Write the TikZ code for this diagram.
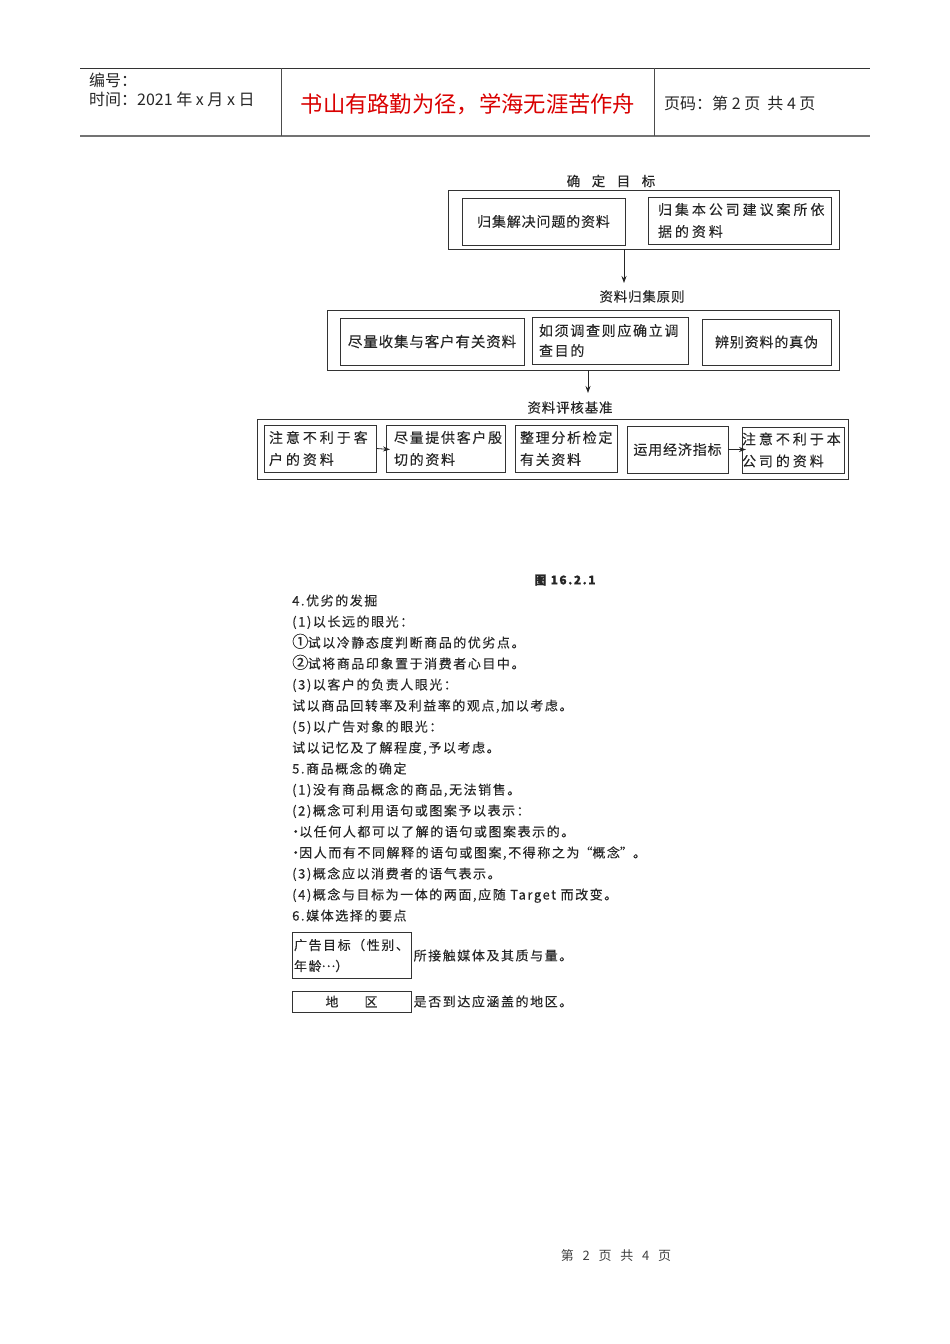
\documentclass[tikz,border=0pt]{standalone}
\usepackage{fontspec}
\setmainfont{Noto Sans CJK SC}
\newfontfamily\wide[LetterSpace=12,FakeBold=0.2]{Noto Sans CJK SC}
\newfontfamily\narrow[LetterSpace=6,FakeBold=0.2]{Noto Sans CJK SC}
\newfontfamily\wider[LetterSpace=21,FakeBold=0.2]{Noto Sans CJK SC}
\usetikzlibrary{arrows.meta,positioning}
\newcommand{\dotmark}{\makebox[7pt][c]{·}}
\tikzset{
  frame/.style 2 args={draw=black!80, line width=0.9pt, inner sep=0pt, minimum width=#1pt, minimum height=#2pt},
  stepbox/.style 2 args={frame={#1}{#2}, font=\narrow\fontsize{14}{22}\selectfont, text=black!85},
  stepleft/.style 2 args={stepbox={#1}{#2}, align=left, text width=#1pt-10pt, font=\wider\fontsize{14}{22}\selectfont},
  title/.style={font=\narrow\fontsize{13.5}{16}\selectfont, text=black!85},
  bodyline/.style={anchor=base west, inner sep=0pt, font=\wide\fontsize{13}{16}\selectfont, text=black!85},
  head/.style={anchor=west, inner sep=0pt, font=\fontsize{16}{18}\selectfont, text=black!85},
  flow/.style={-{Stealth[length=7pt,width=5pt]}, line width=0.8pt, black!85}
}
\begin{document}
\begin{tikzpicture}[x=1pt, y=-1pt]
  \useasboundingbox (0,0) rectangle (950,1344);
  % header
  \coordinate (hl) at (80,68);
  \coordinate (hr) at (870,68);
  \coordinate (bl) at (80,136);
  \coordinate (br) at (870,136);
  \draw[black!80, line width=0.8pt] (hl) -- (hr);
  \draw[black!55, line width=1.2pt] (bl) -- (br);
  \draw[black!70, line width=0.7pt] (281,68) -- (281,136) (654,68) -- (654,136);
  \node[head] (serial) at (89,80) {编号：};
  \node[head] (time) at (89,99) {时间：2021 年 x 月 x 日};
  \node[font=\fontsize{22.3}{26}\selectfont, text=red!85!black, inner sep=0pt] (motto) at (468,104.5) {书山有路勤为径，学海无涯苦作舟};
  \node[head] (page) at (664,103) {页码：第 2 页\ \ 共 4 页};

  % top block
  \node[title] (goal) at (611,181) {确\ \ \ 定\ \ \ 目\ \ \ 标};
  \node[frame={391}{59}] (goalframe) at (643.5,219.5) {};
  \node[stepbox={163}{47}] (goala) at (543.5,221.5) {归集解决问题的资料};
  \node[stepleft={183}{47}, text width=173pt] (goalb) at (739.5,220.5) {\hspace*{5pt}归集本公司建议案所依\\\hspace*{5pt}据的资料};

  % middle block
  \node[title] (rule) at (642,296.5) {资料归集原则};
  \node[frame={512}{60}] (ruleframe) at (583,340) {};
  \node[stepbox={184}{47}, font=\fontsize{14.5}{22}\selectfont\narrow] (rulea) at (432,341.5) {尽量收集与客户有关资料};
  \node[stepleft={156}{47}, font=\wide\fontsize{14}{20}\selectfont] (ruleb) at (610,340.5) {\hspace*{2pt}如须调查则应确立调\\\hspace*{2pt}查目的};
  \node[stepbox={129}{46}] (rulec) at (766.5,342) {辨别资料的真伪};

  % bottom block
  \node[title] (check) at (570,407.5) {资料评核基准};
  \node[frame={591}{60}] (checkframe) at (552.5,449) {};
  \node[stepleft={112}{47}] (checka) at (320,448.5) {注意不利于客\\户的资料};
  \node[stepleft={119}{47}, font=\wide\fontsize{14}{22}\selectfont] (checkb) at (445.5,448.5) {\hspace*{3pt}尽量提供客户殷\\\hspace*{3pt}切的资料};
  \node[stepleft={102}{47}, font=\wide\fontsize{14}{22}\selectfont] (checkc) at (566,448.5) {整理分析检定\\有关资料};
  \node[stepbox={101}{47}] (checkd) at (677.5,449.5) {运用经济指标};
  \node[stepleft={102}{46}, text width=102pt] (checke) at (793,450) {注意不利于本\\公司的资料};

  \coordinate (arrowa) at (624,283);
  \coordinate (arrowb) at (588,393);
  \coordinate (arrowc) at (390,449.5);
  \coordinate (arrowd) at (746,449.5);
  \draw[flow] (goalframe.south -| arrowa) -- (arrowa);
  \draw[flow] (ruleframe.south -| arrowb) -- (arrowb);
  \draw[flow] (checka.east) -- (arrowc);
  \draw[flow] (checkd.east) -- (arrowd);

  % text below
  \node[title, font=\bfseries\wide\fontsize{12}{16}\selectfont] (figure) at (565,580) {图 16.2.1};
  \foreach \i/\t in {0/{4.优劣的发掘},
      1/{(1)以长远的眼光：},
      2/{\makebox[15.5pt][l]{\scalebox{1.25}{①}}试以冷静态度判断商品的优劣点。},
      3/{\makebox[15.5pt][l]{\scalebox{1.25}{②}}试将商品印象置于消费者心目中。},
      4/{(3)以客户的负责人眼光：},
      5/{试以商品回转率及利益率的观点,加以考虑。},
      6/{(5)以广告对象的眼光：},
      7/{试以记忆及了解程度,予以考虑。},
      8/{5.商品概念的确定},
      9/{(1)没有商品概念的商品,无法销售。},
      10/{(2)概念可利用语句或图案予以表示：},
      11/{\dotmark 以任何人都可以了解的语句或图案表示的。},
      12/{\dotmark 因人而有不同解释的语句或图案,不得称之为\makebox[13pt][r]{“}概念\makebox[13pt][l]{”}。},
      13/{(3)概念应以消费者的语气表示。},
      14/{(4)概念与目标为一体的两面,应随 Target 而改变。},
      15/{6.媒体选择的要点}}
    \node[bodyline] (line\i) at (292,605.5+21*\i) {\t};

  \node[stepleft={119}{46}, text width=115pt, font=\wide\fontsize{13}{21}\selectfont] (mediaa) at (351.5,955.5) {广告目标（性别、\\年龄\raisebox{4pt}{…}）};
  \node[bodyline, anchor=west, right=2pt of mediaa] (mediatexta) {所接触媒体及其质与量。};
  \node[stepbox={119}{21}, font=\wide\fontsize{13}{16}\selectfont] (mediab) at (351.5,1001.5) {地\qquad 区};
  \node[bodyline, anchor=west, right=2pt of mediab] (mediatextb) {是否到达应涵盖的地区。};

  \node[font=\fontsize{13}{16}\selectfont, text=black!75, inner sep=0pt] (footer) at (616,1256) {第\ \ \ 2\ \ \ 页\ \ \ 共\ \ \ 4\ \ \ 页};
\end{tikzpicture}
\end{document}
